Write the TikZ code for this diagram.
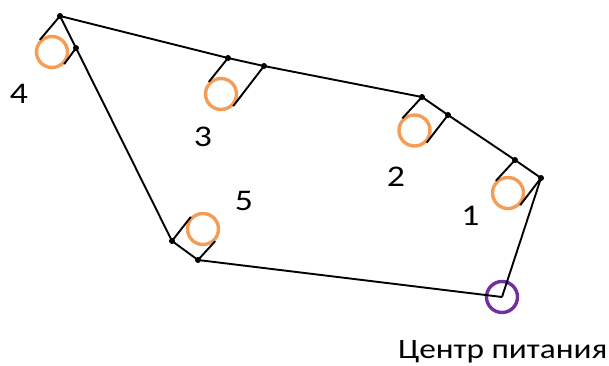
\documentclass[tikz,border=0pt]{standalone}
\usepackage{fontspec}
\setmainfont{Carlito}
\newfontfamily\widefont[FakeStretch=1.19]{Carlito}
\definecolor{loadorange}{HTML}{F59D56}
\definecolor{feedpurple}{HTML}{7030A0}
\tikzset{
  wire/.style={line width=1.9pt, black},
  junction/.style={circle, fill=black, inner sep=0pt, minimum size=5.5pt},
  load/.style={circle, draw=loadorange, line width=3.4pt, inner sep=0pt, minimum size=31pt},
  feed/.style={circle, draw=feedpurple, line width=3.4pt, inner sep=0pt, minimum size=31pt},
  num/.style={font=\widefont\fontsize{30}{31}\selectfont, inner sep=0pt},
}
\begin{document}
\begin{tikzpicture}[x=1pt, y=-1pt]
\useasboundingbox (0,0) rectangle (609,365);
% supply point
\node[feed] (P) at (502,297) {};
\coordinate (p) at (502,297);
% junctions along the ring
\node[junction] (a1) at (541,178) {};
\node[junction] (b1) at (515,160) {};
\node[junction] (a2) at (448,115) {};
\node[junction] (b2) at (422,97) {};
\node[junction] (a3) at (264,66) {};
\node[junction] (b3) at (228,58) {};
\node[junction] (a4) at (60,16) {};
\node[junction] (b4) at (76,48) {};
\node[junction] (a5) at (172,241) {};
\node[junction] (b5) at (198,260) {};
% loads
\node[load] (L1) at (508,193) {};
\node[load] (L2) at (414.5,130.5) {};
\node[load] (L3) at (221,94) {};
\node[load] (L4) at (52,52) {};
\node[load] (L5) at (203,229) {};
% ring
\draw[wire] (p) -- (a1.center) -- (b1.center) -- (a2.center) -- (b2.center)
  -- (a3.center) -- (b3.center) -- (a4.center) -- (b4.center)
  -- (a5.center) -- (b5.center) -- (p);
% taps to loads
\draw[wire] (b1.center) -- (L1.135) (a1.center) -- (L1.-45);
\draw[wire] (b2.center) -- (L2.135) (a2.center) -- (L2.-45);
\draw[wire] (b3.center) -- (L3.135) (a3.center) -- (L3.-45);
\draw[wire] (a4.center) -- (L4.135) (b4.center) -- (L4.-45);
\draw[wire] (a5.center) -- (L5.135) (b5.center) -- (L5.-45);
% junction dots on top of the wires
\foreach \j in {a1,b1,a2,b2,a3,b3,a4,b4,a5,b5} \fill (\j) circle (2.9pt);
% labels
\node[num] (n1) at (470.5,216) {1};
\node[num] (n2) at (396,177) {2};
\node[num] (n3) at (203,136.5) {3};
\node[num] (n4) at (19,94) {4};
\node[num] (n5) at (244,200.5) {5};
\node[font=\widefont\fontsize{28}{30}\selectfont, inner sep=0pt, anchor=base west] (cp) at (398,358) {Центр питания};
\end{tikzpicture}
\end{document}
